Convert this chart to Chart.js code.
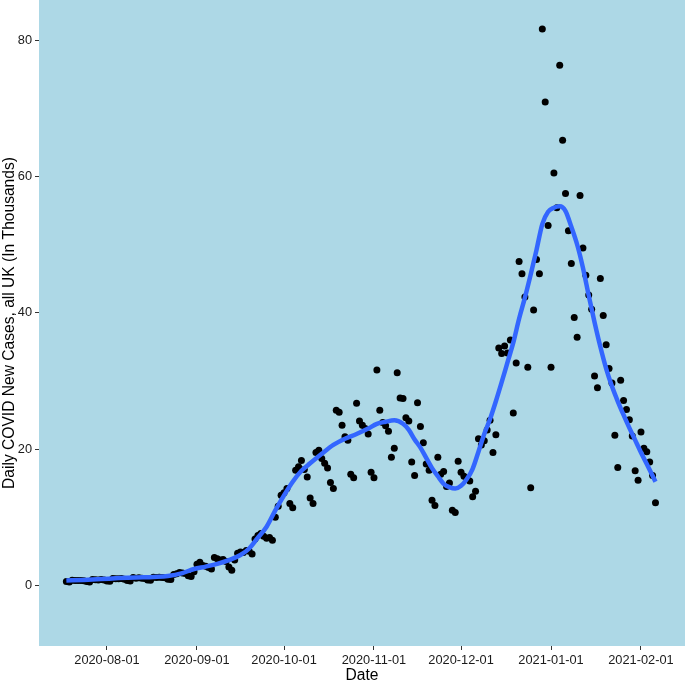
<!DOCTYPE html>
<html>
<head>
<meta charset="utf-8">
<title>Daily COVID New Cases, all UK</title>
<script src="https://cdn.jsdelivr.net/npm/chart.js@4.4.1/dist/chart.umd.min.js"></script>
<style>
    html, body { margin: 0; padding: 0; background: #ffffff; }
    #wrap { width: 685px; height: 683px; position: relative; }
</style>
</head>
<body>
<div id="wrap"><canvas id="covidChart"></canvas></div>
<script>
// -------------------------------------------------------------------------
// Data (thousands of cases per day, one value per day from START_DATE)
// -------------------------------------------------------------------------
const START_DATE = "2020-07-18";

const julyCases = [0.55, 0.50, 0.75, 0.72, 0.70, 0.72, 0.68, 0.55, 0.50, 0.85, 0.82, 0.80, 0.85, 0.80];
const augustCases = [0.62, 0.60, 1.00, 0.95, 0.95, 1.00, 0.90, 0.70, 0.65, 1.15, 1.05, 1.10, 1.05, 1.00,
    0.80, 0.75, 1.20, 1.15, 1.20, 1.15, 1.10, 0.90, 0.85, 1.60, 1.70, 1.90, 1.80, 1.75, 1.40, 1.30, 2.00];
const septemberCases = [3.1, 3.4, 2.9, 2.8, 2.6, 2.4, 4.1, 3.9, 3.7, 3.8, 3.5, 2.7, 2.2, 3.7, 4.7,
    4.9, 4.8, 5.1, 5.0, 4.6, 6.8, 7.3, 7.6, 7.2, 6.9, 7.0, 6.6, 10.0, 11.6, 13.2];
const octoberCases = [13.6, 14.2, 12.0, 11.4, 16.9, 17.4, 18.3, 17.0, 15.9, 12.8, 12.0, 19.5, 19.8, 18.6,
    17.9, 17.2, 15.1, 14.2, 25.7, 25.4, 23.5, 21.8, 21.3, 16.3, 15.8, 26.7, 24.1, 23.5, 23.0, 22.2, 16.6];
const novemberCases = [15.8, 31.6, 25.7, 23.9, 23.4, 22.6, 18.8, 20.1, 31.2, 27.5, 27.4, 24.6, 24.1, 18.1,
    16.1, 26.8, 23.3, 20.9, 17.8, 16.9, 12.5, 11.7, 18.8, 16.3, 16.7, 14.5, 15.0, 11.0, 10.7, 18.2];
const decemberCases = [16.6, 16.0, 15.7, 15.3, 13.0, 13.8, 21.5, 20.6, 21.2, 22.8, 24.2, 19.5, 22.1, 34.8,
    34.0, 35.1, 34.1, 36.0, 25.3, 32.6, 47.5, 45.7, 42.3, 32.0, 14.3, 40.4, 47.8, 45.7, 81.6, 70.9, 52.8];
const januaryCases = [32.0, 60.5, 55.4, 76.3, 65.3, 57.5, 52.0, 47.2, 39.3, 36.4, 57.2, 49.5, 45.5, 42.6,
    40.5, 30.7, 29.0, 45.0, 39.6, 35.3, 31.8, 29.7, 22.0, 17.3, 30.1, 27.1, 25.8, 24.3, 21.9, 16.8, 15.4];
const februaryCases = [22.5, 20.1, 19.6, 18.1, 16.1, 12.1];

// Smoothed trend, day offset from START_DATE
const smoothDays = [0, 6, 12, 18, 24, 30, 35, 40, 44, 48, 52, 56, 60, 63, 66, 69, 72, 75, 78, 81, 84, 88,
    92, 96, 100, 104, 107, 110, 113, 116, 118, 120, 122, 124, 126, 128, 130, 132, 134, 136, 138, 140, 142,
    144, 146, 148, 150, 152, 154, 156, 158, 160, 162, 164, 166, 168, 170, 172, 174, 176, 178, 180, 182,
    184, 186, 188, 190, 192, 194, 196, 198, 200, 203];
const smoothCases = [0.72, 0.80, 0.92, 1.06, 1.16, 1.24, 1.36, 1.80, 2.40, 2.75, 3.15, 3.70, 4.45, 5.4,
    7.0, 8.6, 11.0, 13.2, 15.2, 16.8, 17.9, 19.3, 20.6, 21.5, 22.2, 23.0, 23.7, 24.0, 24.2, 23.7, 22.8,
    21.4, 20.2, 18.7, 17.2, 16.0, 14.9, 14.4, 14.2, 14.6, 15.6, 17.1, 19.6, 22.2, 24.4, 27.0, 29.8, 32.7,
    35.6, 39.1, 42.2, 45.6, 49.2, 53.0, 54.8, 55.4, 55.6, 54.9, 52.6, 50.0, 46.6, 42.5, 38.6, 35.0, 31.8,
    29.2, 27.0, 25.0, 23.1, 21.3, 19.5, 17.8, 15.2];

const xTickLabels = ["2020-08-01", "2020-09-01", "2020-10-01", "2020-11-01", "2020-12-01", "2021-01-01", "2021-02-01"];
const yTickValues = [0, 20, 40, 60, 80];

// -------------------------------------------------------------------------
// Build datasets
// -------------------------------------------------------------------------
const DAY_MS = 86400000;
const startDay = Date.parse(START_DATE) / DAY_MS;

const dailyCases = [].concat(julyCases, augustCases, septemberCases, octoberCases,
    novemberCases, decemberCases, januaryCases, februaryCases);
const pointData = dailyCases.map((v, i) => ({ x: startDay + i, y: v }));
const smoothData = smoothDays.map((d, i) => ({ x: startDay + d, y: smoothCases[i] }));
const xTickValues = xTickLabels.map((s) => Date.parse(s) / DAY_MS);

const FONT = "'Liberation Sans', Arial, Helvetica, sans-serif";
const PANEL = "#ADD8E6";

// light blue panel behind the plotting area
const panelBackground = {
    id: "panelBackground",
    beforeDraw(chart) {
        const { ctx, chartArea: a } = chart;
        ctx.save();
        ctx.fillStyle = PANEL;
        ctx.fillRect(a.left, a.top, a.right - a.left, a.bottom - a.top);
        ctx.restore();
    },
};

// scales get a fixed size, no extra padding for edge labels
function fixScale(scale, size) {
    if (scale.isHorizontal()) scale.height = size;
    else scale.width = size;
    scale.paddingTop = 0;
    scale.paddingBottom = 0;
    scale.paddingLeft = 0;
    scale.paddingRight = 0;
}

new Chart(document.getElementById("covidChart"), {
    type: "scatter",
    data: {
        datasets: [
            {
                type: "line",
                label: "Trend",
                data: smoothData,
                borderColor: "#3366FF",
                borderWidth: 4.5,
                pointRadius: 0,
                cubicInterpolationMode: "monotone",
                fill: false,
                order: 0,
            },
            {
                label: "Daily cases",
                data: pointData,
                backgroundColor: "#000000",
                borderWidth: 0,
                pointRadius: 3.5,
                pointHoverRadius: 3.5,
                order: 1,
            },
        ],
    },
    options: {
        responsive: true,
        maintainAspectRatio: false,
        animation: false,
        devicePixelRatio: 1,
        layout: { padding: 0, autoPadding: false },
        plugins: {
            legend: { display: false },
            tooltip: { enabled: false },
        },
        scales: {
            x: {
                type: "linear",
                min: startDay - 9.43,
                max: startDay + 213.17,
                afterBuildTicks: (scale) => {
                    scale.ticks = xTickValues.map((v) => ({ value: v }));
                },
                afterFit: (scale) => fixScale(scale, 37),
                ticks: {
                    callback: (value, index) => xTickLabels[index],
                    autoSkip: false,
                    maxRotation: 0,
                    padding: 3,
                    color: "#1a1a1a",
                    font: { family: FONT, size: 12.8 },
                },
                grid: { drawOnChartArea: false, drawTicks: true, tickLength: 4, color: "#333333" },
                border: { display: false },
                title: {
                    display: true,
                    text: "Date",
                    color: "#000000",
                    font: { family: FONT, size: 15.6 },
                    padding: { top: 0, bottom: -2 },
                },
            },
            y: {
                min: -8.9,
                max: 85.87,
                afterBuildTicks: (scale) => {
                    scale.ticks = yTickValues.map((v) => ({ value: v }));
                },
                afterFit: (scale) => fixScale(scale, 39),
                ticks: {
                    padding: 3,
                    color: "#1a1a1a",
                    font: { family: FONT, size: 12.8 },
                },
                grid: { drawOnChartArea: false, drawTicks: true, tickLength: 4, color: "#333333" },
                border: { display: false },
                title: {
                    display: true,
                    text: "Daily COVID New Cases, all UK (In Thousands)",
                    color: "#000000",
                    font: { family: FONT, size: 15.6 },
                    padding: { top: 0, bottom: 0 },
                },
            },
        },
    },
    plugins: [panelBackground],
});
</script>
</body>
</html>
